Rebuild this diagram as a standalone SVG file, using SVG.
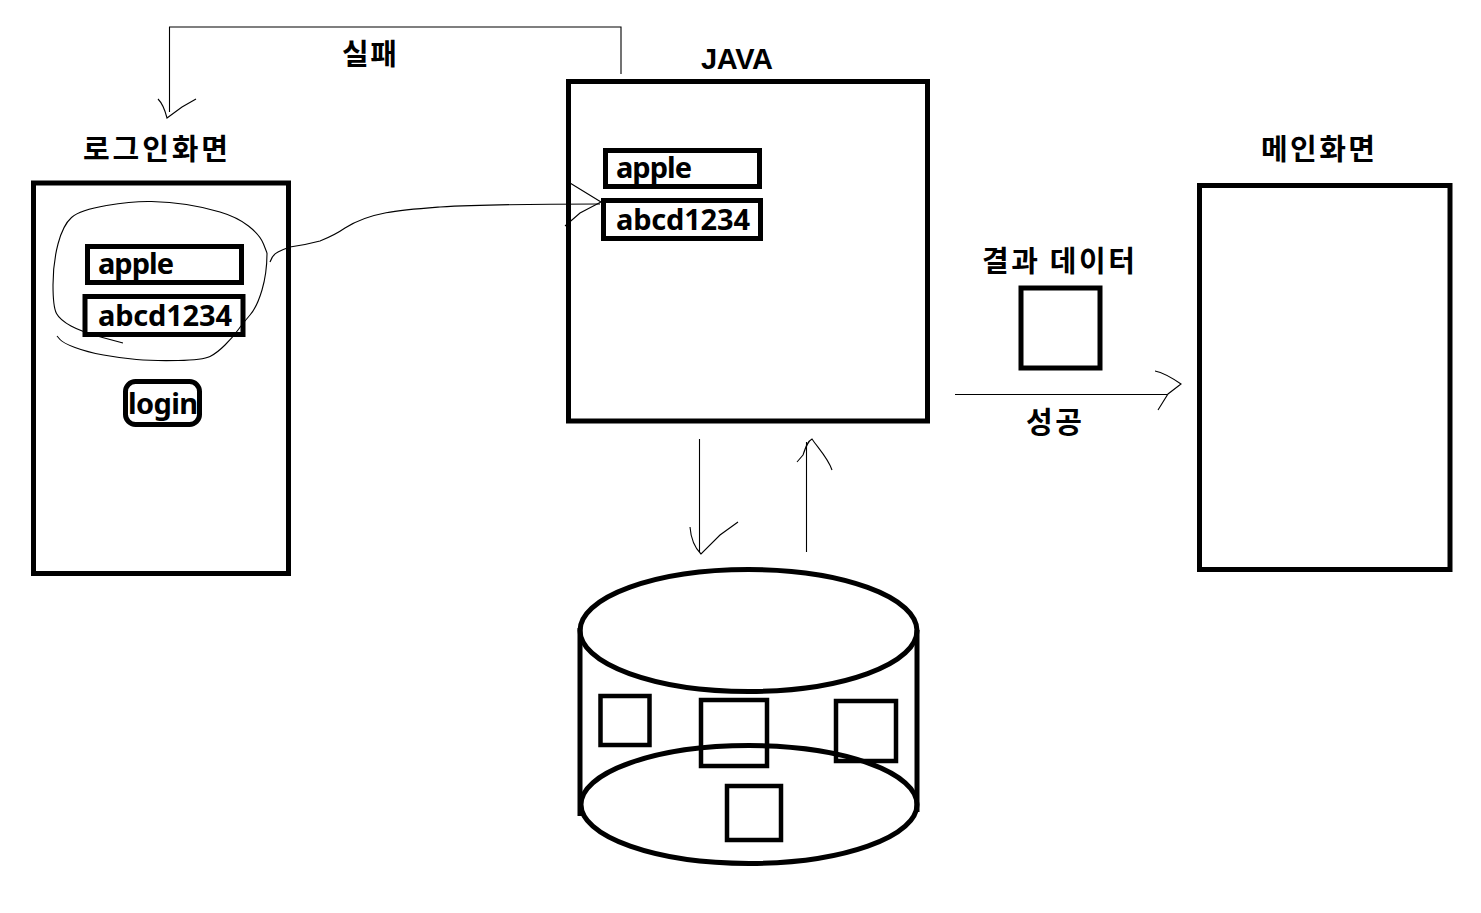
<svg xmlns="http://www.w3.org/2000/svg" width="1481" height="913" viewBox="0 0 1481 913">
<style>
.b{fill:none;stroke:#000;stroke-width:5}
.s{fill:none;stroke:#000;stroke-width:4.500}
.c{fill:none;stroke:#000;stroke-width:1.1}
text{font-family:"Noto Sans CJK KR","Noto Sans",sans-serif;font-weight:700;fill:#000;font-size:29px}
.l{font-family:"Noto Sans","Open Sans",sans-serif;font-weight:700;font-size:29px}
.j{font-family:"Liberation Sans",Arial,sans-serif;font-weight:700;font-size:29px}
</style>
<rect width="1481" height="913" fill="#fff"/>
<g id="login-screen">
<text x="83" y="160" textLength="145">로그인화면</text>
<rect class="b" x="33.500" y="183" width="255" height="390.500"/>
</g>
<g id="login-id"><rect class="b" x="87.500" y="246.500" width="154" height="36"/><text class="l" x="98" y="274" textLength="76">apple</text></g>
<g id="login-pw"><rect class="b" x="85" y="296.500" width="158" height="38"/><text class="l" x="98" y="326" textLength="134">abcd1234</text></g>
<g id="login-button"><rect class="b" x="125.500" y="381.500" width="74" height="43" rx="10"/><text class="l" x="128" y="414" textLength="70">login</text></g>
<g id="java">
<text class="j" x="701" y="69" textLength="72">JAVA</text>
<rect class="b" x="568.500" y="81.500" width="359" height="339.500"/>
</g>
<g id="java-id"><rect class="b" x="605.500" y="150.500" width="154" height="36"/><text class="l" x="616" y="178" textLength="76">apple</text></g>
<g id="java-pw"><rect class="b" x="603.500" y="200.500" width="157" height="38"/><text class="l" x="616" y="230" textLength="134">abcd1234</text></g>
<g id="main-screen">
<text x="1261" y="160" textLength="114">메인화면</text>
<rect class="b" x="1199.500" y="185.500" width="250.500" height="384"/>
</g>
<g id="result-data">
<text x="982" y="272" textLength="153">결과 데이터</text>
<rect class="b" x="1021" y="288" width="79" height="80"/>
</g>
<g id="database">
<ellipse class="b" cx="748.500" cy="630.500" rx="168.500" ry="61"/>
<ellipse class="b" cx="749" cy="804.500" rx="168" ry="59"/>
<path class="b" d="M580 628V816M917 630V812"/>
<rect class="s" x="600.500" y="696" width="49" height="49"/>
<rect class="s" x="701" y="700" width="66" height="66"/>
<rect class="s" x="836" y="701" width="60" height="60"/>
<rect class="s" x="727" y="786" width="54" height="54"/>
</g>
<g id="connectors">
<path class="c" d="M621 74V27H169.500V112"/>
<path class="c" d="M158 99C161 102 165 110 167 118L182 107 196 99"/>
<path class="c" d="M270 262Q272 255 278 252Q284 249 290 247Q305 245 320 241Q335 235 345 228C370 212 400 210 440 207C490 204 540 204 600 204"/>
<path class="c" d="M570 183 601 202 580 213 565 226"/>
<path class="c" d="M699.500 439V552"/>
<path class="c" d="M690 527C691 540 695 548 701 554L720 535 738 522"/>
<path class="c" d="M806.500 552V442"/>
<path class="c" d="M797 462 803 455C806 446 808 441 812 439C818 448 828 458 832 470"/>
<path class="c" d="M955 394.500H1167"/>
<path class="c" d="M1155 371Q1165 373 1181 384L1168 394 1158 410"/>
<path class="c" d="M267 253L263.500 244Q260 235 248.500 226Q237 217 220 212Q203 207 186.500 204.500Q170 202 151.500 201.500Q133 201 106.500 205.500Q80 210 71.500 217.500Q63 225 58 244Q53 263 53 285Q53 307 56.500 313.500Q60 320 71 326Q82 332 102.500 337.500L123 343"/>
<path class="c" d="M57 336L60 339.500Q63 343 75 347.500Q87 352 103.500 355Q120 358 136.500 359.500Q153 361 178 360.500Q203 360 210 356.500Q217 353 225 345Q233 337 238 330Q243 323 250 315Q257 307 262 290Q267 273 267 253"/>
</g>
<g id="labels">
<text x="342" y="65" textLength="55">실패</text>
<text x="1026" y="433" textLength="56">성공</text>
</g>
</svg>
